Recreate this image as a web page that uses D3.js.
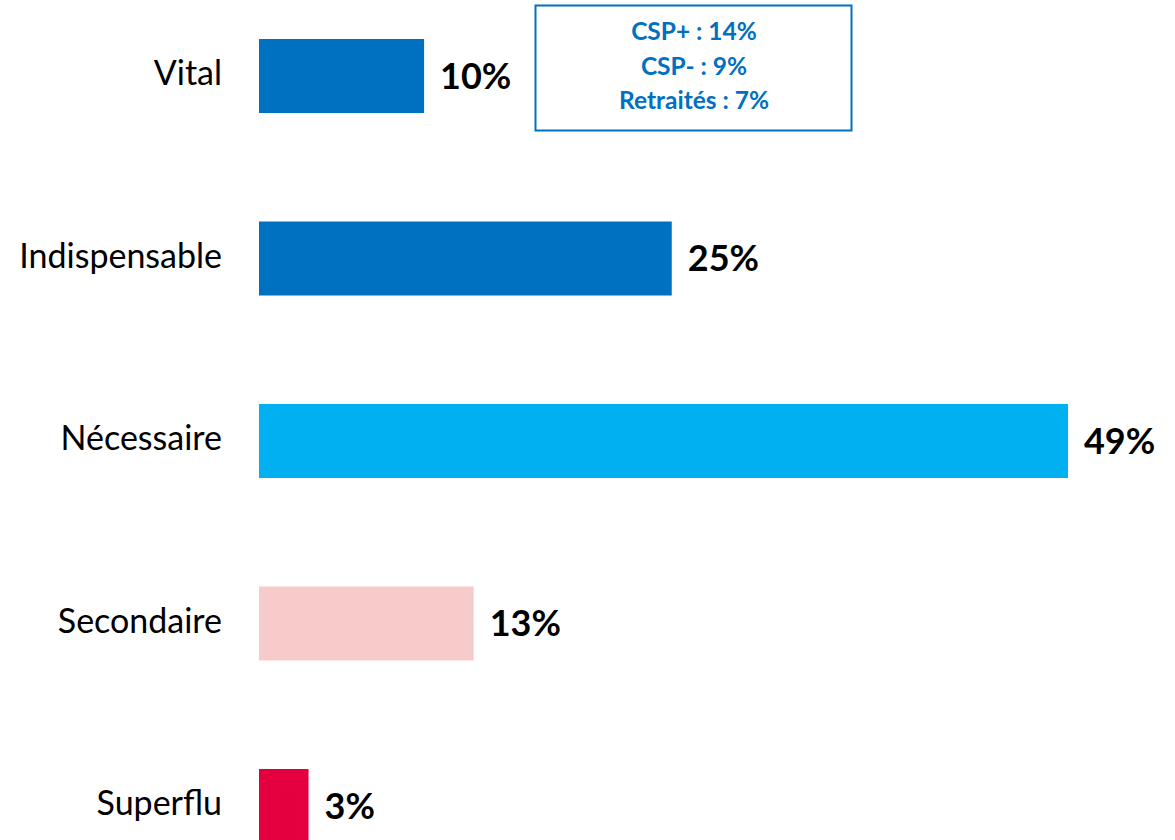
<!DOCTYPE html>
<html>
<head>
<meta charset="utf-8">
<script src="https://cdn.jsdelivr.net/npm/d3@7"></script>
<style>
  body { margin: 0; background: #fff; }
  svg { display: block; font-family: Lato, "Open Sans", sans-serif; }
</style>
</head>
<body>
<svg id="chart"></svg>
<script>
// catégories et valeurs (%)
const categories = ["Vital", "Indispensable", "Nécessaire", "Secondaire", "Superflu"];
const values = [10, 25, 49, 13, 3];
const colors = ["#0070C0", "#0070C0", "#00B0F0", "#F8CBCB", "#E4003F"];
const detailLines = ["CSP+ : 14%", "CSP- : 9%", "Retraités : 7%"];

const width = 1175, height = 840;

const svg = d3.select("#chart")
  .attr("width", width)
  .attr("height", height);

const y = d3.scaleBand()
  .domain(categories)
  .range([39, 843])
  .paddingInner(0.5945)
  .paddingOuter(0);

const x = d3.scaleLinear()
  .domain([0, 50])
  .range([259, 1084.5]);

const data = categories.map((c, i) => ({ cat: c, value: values[i], color: colors[i] }));

// barres
svg.selectAll("rect.bar")
  .data(data)
  .enter()
  .append("rect")
  .attr("class", "bar")
  .attr("x", x(0))
  .attr("y", d => y(d.cat))
  .attr("width", d => x(d.value) - x(0))
  .attr("height", y.bandwidth())
  .attr("fill", d => d.color);

// libellés des catégories
svg.selectAll("text.cat")
  .data(data)
  .enter()
  .append("text")
  .attr("class", "cat")
  .attr("x", 222)
  .attr("y", d => y(d.cat) + y.bandwidth() / 2)
  .attr("dy", "0.27em")
  .attr("text-anchor", "end")
  .style("font-size", "34px")
  .attr("fill", "#000")
  .text(d => d.cat);

// valeurs
svg.selectAll("text.val")
  .data(data)
  .enter()
  .append("text")
  .attr("class", "val")
  .attr("x", d => x(d.value) + 16)
  .attr("y", d => y(d.cat) + y.bandwidth() / 2)
  .attr("dy", "0.36em")
  .style("font-size", "36px")
  .style("font-weight", "bold")
  .attr("fill", "#000")
  .text(d => d.value + "%");

// encadré détail (Vital)
const box = svg.append("g");
box.append("rect")
  .attr("x", 535.5)
  .attr("y", 5.5)
  .attr("width", 316)
  .attr("height", 125)
  .attr("fill", "#fff")
  .attr("stroke", "#0070C0")
  .attr("stroke-width", 2);

box.selectAll("text")
  .data(detailLines)
  .enter()
  .append("text")
  .attr("x", 694)
  .attr("y", (d, i) => 40 + i * 34.5)
  .attr("text-anchor", "middle")
  .style("font-size", "24.5px")
  .style("font-weight", "bold")
  .attr("fill", "#0070C0")
  .text(d => d);
</script>
</body>
</html>
